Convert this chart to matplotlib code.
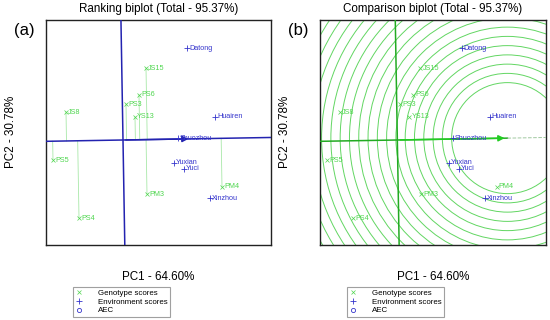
import numpy as np
import matplotlib
matplotlib.use("Agg")
import matplotlib.pyplot as plt
from matplotlib.lines import Line2D
from matplotlib.patches import Circle

plt.rcParams["font.family"] = ["Liberation Sans", "DejaVu Sans"]

# genotype scores (PC1, PC2)
genotypes = ["JS15", "PS6", "PS3", "JS8", "YS13", "PS5", "PM3", "PM4", "PS4"]
gen_pc1 = [0.92, 0.64, 0.12, -2.28, 0.48, -2.80, 0.96, 3.96, -1.76]
gen_pc2 = [2.88, 1.80, 1.44, 1.12, 0.92, -0.80, -2.16, -1.88, -3.12]

# environment scores (PC1, PC2)
environments = ["Datong", "Huairen", "Shuozhou", "Yuxian", "Yuci", "Xinzhou"]
env_pc1 = [2.56, 3.68, 2.20, 2.04, 2.44, 3.48]
env_pc2 = [3.68, 0.92, 0.08, -0.92, -1.16, -2.32]

titles = ["Ranking biplot (Total - 95.37%)", "Comparison biplot (Total - 95.37%)"]
tags = ["(a)", "(b)"]
pc1_label = "PC1 - 64.60%"
pc2_label = "PC2 - 30.78%"
legend_labels = ["Genotype scores", "Environment scores", "AEC"]
circle_step = 0.37
circle_first = 6

XLIM = (-3.08, 5.92)
YLIM = (-4.2, 4.8)

GREEN = "#4fd64f"
BLUE = "#3535cc"
DARKBLUE = "#2323b0"

g = np.column_stack([gen_pc1, gen_pc2])
e = np.column_stack([env_pc1, env_pc2])
avg_env = e.mean(axis=0)
u = avg_env / np.linalg.norm(avg_env)
v = np.array([-u[1], u[0]])
ideal = np.linalg.norm(g, axis=1).max() * u

W, H = 550, 320
fig = plt.figure(figsize=(5.5, 3.2), dpi=100)
axes = [fig.add_axes([46 / W, 1 - 245 / H, 225 / W, 225 / H]),
        fig.add_axes([320 / W, 1 - 245 / H, 226 / W, 225 / H])]


def draw_points(ax):
    ax.plot(g[:, 0], g[:, 1], "x", color=GREEN, ms=2.5, mew=0.5, zorder=5)
    for name, (x, y) in zip(genotypes, g):
        ax.annotate(name, (x, y), xytext=(1.5, 0), textcoords="offset points",
                    va="center", ha="left", fontsize=5.2, color=GREEN, zorder=6)
    ax.plot(e[:, 0], e[:, 1], "+", color=BLUE, ms=4, mew=0.6, zorder=5)
    for name, (x, y) in zip(environments, e):
        ax.annotate(name, (x, y), xytext=(1.5, 0), textcoords="offset points",
                    va="center", ha="left", fontsize=5.2, color=BLUE, zorder=6)


t = np.array([-20, 20])

# (a) ranking biplot
ax = axes[0]
ax.plot(t * u[0], t * u[1], color=DARKBLUE, lw=1.1, zorder=3)
ax.plot(t * v[0], t * v[1], color=DARKBLUE, lw=1.1, zorder=3)
for p in g:
    foot = p.dot(u) * u
    ax.plot([p[0], foot[0]], [p[1], foot[1]], color="#a8e8a8", lw=0.6, zorder=2)
ax.annotate("", xy=avg_env, xytext=(0, 0),
            arrowprops=dict(arrowstyle="-|>", color=DARKBLUE, lw=1.1,
                            mutation_scale=9), zorder=4)
draw_points(ax)

# (b) comparison biplot
ax = axes[1]
for k in range(circle_first, 35):
    ax.add_patch(Circle(ideal, k * circle_step, fill=False, color="#62d662", lw=0.7, zorder=1))
ax.plot([-20 * u[0], ideal[0]], [-20 * u[1], ideal[1]], color="#22aa22", lw=1.1, zorder=3)
ax.plot([ideal[0], 20 * u[0]], [ideal[1], 20 * u[1]], color="#a0c8a0", lw=0.7, ls="--", zorder=3)
ax.plot(t * v[0], t * v[1], color="#22aa22", lw=1.1, zorder=3)
ax.annotate("", xy=ideal, xytext=(0, 0),
            arrowprops=dict(arrowstyle="-|>", color="#22cc22", lw=1.1,
                            mutation_scale=9), zorder=4)
draw_points(ax)

handles = [Line2D([], [], ls="", marker="x", color=GREEN, ms=3, mew=0.5),
           Line2D([], [], ls="", marker="+", color=BLUE, ms=4, mew=0.6),
           Line2D([], [], ls="", marker="o", mfc="none", mec=BLUE, ms=3, mew=0.6)]

for i, ax in enumerate(axes):
    ax.set_xlim(XLIM)
    ax.set_ylim(YLIM)
    ax.set_xticks([])
    ax.set_yticks([])
    for s in ax.spines.values():
        s.set_linewidth(1.0)
        s.set_color("#222222")
    x0 = ax.get_position().x0
    xc = (ax.get_position().x0 + ax.get_position().x1) / 2
    fig.text(xc, 1 - 9 / H, titles[i], ha="center", va="center", fontsize=8.4)
    fig.text(x0 - 22 / W, 1 - 31 / H, tags[i], ha="center", va="center", fontsize=12)
    fig.text(x0 - 35 / W, 1 - 132 / H, pc2_label, ha="center", va="center",
             rotation=90, fontsize=8.4)
    fig.text(xc, 1 - 277 / H, pc1_label, ha="center", va="center", fontsize=8.4)
    leg = fig.legend(handles, legend_labels, loc="upper left",
                     bbox_to_anchor=(x0 + 27 / W, 1 - 287 / H), fontsize=5.7,
                     frameon=True, fancybox=False, edgecolor="#888888",
                     handlelength=1.0, handletextpad=1.9, labelspacing=0.15,
                     borderpad=0.3, borderaxespad=0)
    leg.get_frame().set_linewidth(0.8)

fig.savefig("out.png", dpi=100)
